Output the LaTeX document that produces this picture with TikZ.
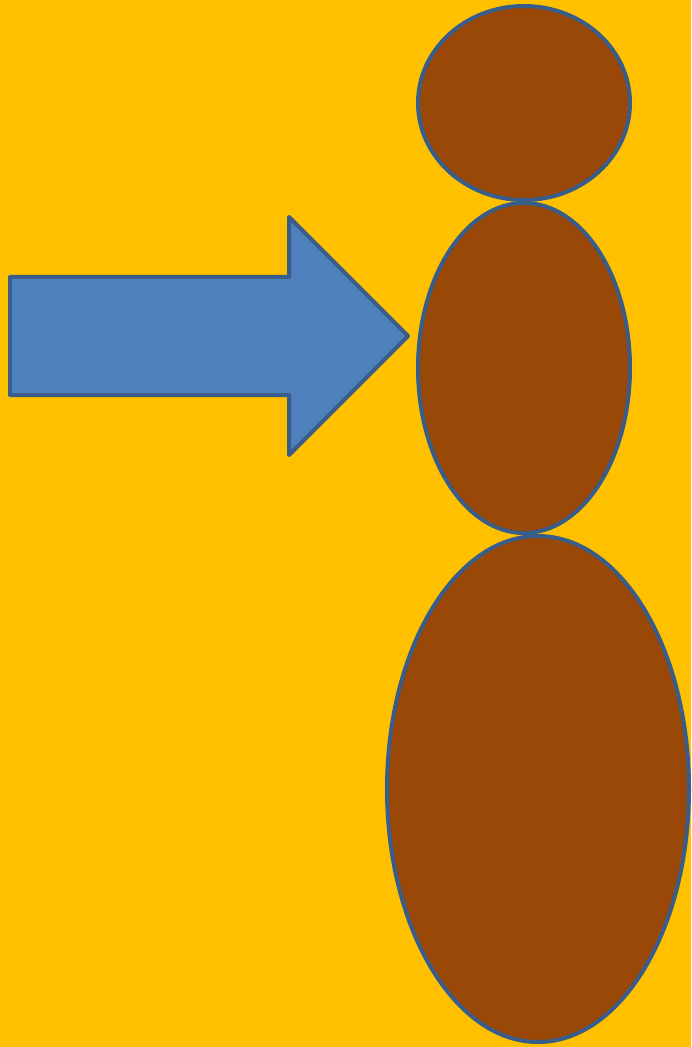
\documentclass[tikz,border=0pt]{standalone}
\definecolor{bgorange}{HTML}{FFC000}
\definecolor{bodybrown}{HTML}{994808}
\definecolor{rimblue}{HTML}{385D8A}
\definecolor{arrowblue}{HTML}{4F81BD}
\begin{document}
\begin{tikzpicture}[x=0.02cm,y=-0.02cm,
    blob/.style={fill=bodybrown,draw=rimblue,line width=0.08cm},
    pointer/.style={fill=arrowblue,draw=rimblue,line width=0.08cm,line join=round}]
  % background
  \fill[bgorange] (0,0) rectangle (691,1047);
  \useasboundingbox (0,0) rectangle (691,1047);
  % the three stacked ellipses
  \foreach \cx/\cy/\rx/\ry in {524/103/106/97, 524/368/106/165, 538/789/151/253}{
    \draw[blob] (\cx,\cy) ellipse [x radius=\rx, y radius=\ry];
  }
  % block arrow pointing at the middle ellipse
  \draw[pointer] (10,277) -- (289,277) -- (289,217) -- (408,336)
    -- (289,455) -- (289,395) -- (10,395) -- cycle;
\end{tikzpicture}
\end{document}
